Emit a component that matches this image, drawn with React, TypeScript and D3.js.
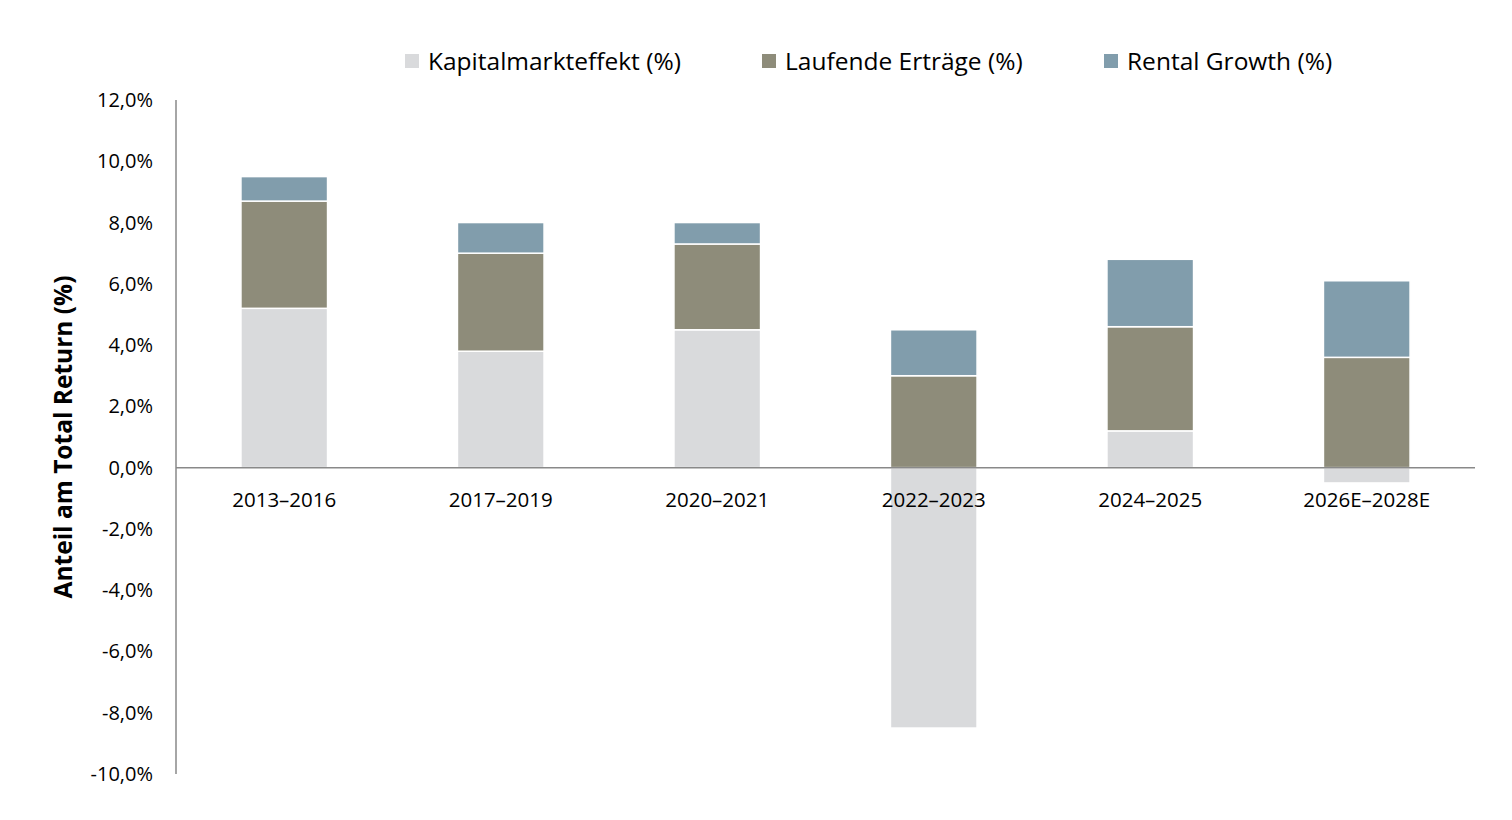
import React, { useEffect, useRef } from "react";
import * as d3 from "d3";

const categories = ["2013–2016", "2017–2019", "2020–2021", "2022–2023", "2024–2025", "2026E–2028E"];
const kapital = [5.2, 3.8, 4.5, -8.5, 1.2, -0.5];
const laufende = [3.5, 3.2, 2.8, 3.0, 3.4, 3.6];
const rental = [0.8, 1.0, 0.7, 1.5, 2.2, 2.5];
const seriesNames = ["Kapitalmarkteffekt (%)", "Laufende Erträge (%)", "Rental Growth (%)"];
const colors = ["#d9dadc", "#8e8c7a", "#819dac"];
const yTicks = [12, 10, 8, 6, 4, 2, 0, -2, -4, -6, -8, -10];

const width = 1512;
const height = 820;
const font = "'Open Sans', 'Noto Sans', sans-serif";

const App = () => {
  const ref = useRef<any>(null);

  useEffect(() => {
    const svg = d3.select(ref.current);
    svg.selectAll("*").remove();

    const x = d3.scaleBand().domain(categories).range([176, 1475]).paddingInner(0.6).paddingOuter(0.3);
    const y = d3.scaleLinear().domain([-10, 12]).range([774, 100]);

    const fmt = (v: number) => v.toFixed(1).replace(".", ",") + "%";

    // y tick labels (no tick marks)
    svg
      .append("g")
      .selectAll("text")
      .data(yTicks)
      .enter()
      .append("text")
      .attr("x", 153)
      .attr("y", (d) => y(d))
      .attr("dy", "0.35em")
      .attr("text-anchor", "end")
      .style("font-family", font)
      .style("font-size", "20px")
      .style("fill", "#000")
      .text((d) => fmt(d));

    // bars: kapital from 0, laufende & rental stacked on the positive side
    const segs: any[] = [];
    categories.forEach((c, i) => {
      const k = kapital[i];
      const base = Math.max(k, 0);
      segs.push({ c, y0: 0, y1: k, s: 0 });
      segs.push({ c, y0: base, y1: base + laufende[i], s: 1 });
      segs.push({ c, y0: base + laufende[i], y1: base + laufende[i] + rental[i], s: 2 });
    });

    svg
      .append("g")
      .selectAll("rect")
      .data(segs)
      .enter()
      .append("rect")
      .attr("x", (d) => x(d.c)!)
      .attr("width", x.bandwidth())
      .attr("y", (d) => y(Math.max(d.y0, d.y1)))
      .attr("height", (d) => Math.abs(y(d.y0) - y(d.y1)))
      .style("fill", (d) => colors[d.s])
      .style("stroke", "#fff")
      .style("stroke-width", 1.5);

    // axes lines
    svg
      .append("line")
      .attr("x1", 176)
      .attr("x2", 176)
      .attr("y1", y(12))
      .attr("y2", y(-10))
      .style("stroke", "#898989")
      .style("stroke-width", 1.5);

    svg
      .append("line")
      .attr("x1", 176)
      .attr("x2", 1475)
      .attr("y1", y(0))
      .attr("y2", y(0))
      .style("stroke", "#898989")
      .style("stroke-width", 1.5);

    // category labels
    svg
      .append("g")
      .selectAll("text")
      .data(categories)
      .enter()
      .append("text")
      .attr("x", (d) => x(d)! + x.bandwidth() / 2)
      .attr("y", y(0) + 32)
      .attr("dy", "0.35em")
      .attr("text-anchor", "middle")
      .style("font-family", font)
      .style("font-size", "20.5px")
      .style("fill", "#000")
      .text((d) => d);

    // y title
    svg
      .append("text")
      .attr("transform", "translate(72,437) rotate(-90)")
      .attr("text-anchor", "middle")
      .style("font-family", font)
      .style("font-size", "24.5px")
      .style("font-weight", "bold")
      .style("fill", "#000")
      .text("Anteil am Total Return (%)");

    // legend
    const legendX = [405, 762, 1104];
    const lg = svg
      .append("g")
      .selectAll("g")
      .data(seriesNames)
      .enter()
      .append("g")
      .attr("transform", (d, i) => "translate(" + legendX[i] + ",61)");
    lg.append("rect")
      .attr("x", 0)
      .attr("y", -7)
      .attr("width", 14)
      .attr("height", 14)
      .style("fill", (d, i) => colors[i]);
    lg.append("text")
      .attr("x", 23)
      .attr("dy", "0.35em")
      .style("font-family", font)
      .style("font-size", "24.5px")
      .style("fill", "#000")
      .text((d) => d);
  }, []);

  return <svg ref={ref} width={width} height={height} style={{ display: "block", position: "absolute", left: 0, top: 0, background: "#fff" }}></svg>;
};

export default App;
